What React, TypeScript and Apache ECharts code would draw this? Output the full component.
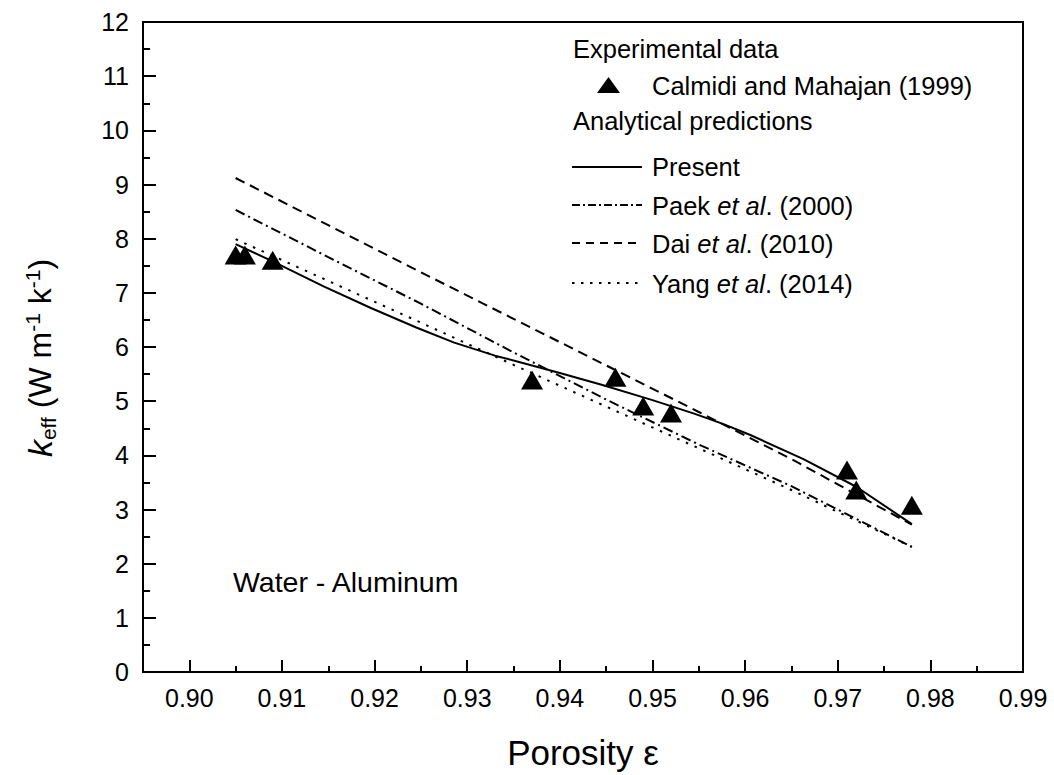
import React, { useEffect, useRef } from "react";
import * as echarts from "echarts";

const FONT = "'Liberation Sans', Arial, Helvetica, sans-serif";

const xMajorTicks = [0.9, 0.91, 0.92, 0.93, 0.94, 0.95, 0.96, 0.97, 0.98, 0.99];
const xMinorTicks = [0.905, 0.915, 0.925, 0.935, 0.945, 0.955, 0.965, 0.975, 0.985];

// Experimental data: Calmidi and Mahajan (1999)
const expX = [0.905, 0.906, 0.909, 0.937, 0.946, 0.949, 0.952, 0.971, 0.972, 0.978];
const expY = [7.7, 7.7, 7.6, 5.39, 5.44, 4.91, 4.78, 3.73, 3.36, 3.08];

// Present model
const presentX = [0.905, 0.909, 0.9145, 0.9196, 0.9245, 0.9286, 0.933, 0.9357, 0.94, 0.9446, 0.95, 0.9545, 0.9576, 0.9605, 0.9663, 0.972, 0.978];
const presentY = [7.9, 7.58, 7.12, 6.72, 6.36, 6.08, 5.84, 5.72, 5.52, 5.3, 5.02, 4.77, 4.58, 4.38, 3.93, 3.42, 2.73];

// Paek et al. (2000)
const paekX = [0.905, 0.915, 0.925, 0.935, 0.945, 0.955, 0.965, 0.978];
const paekY = [8.53, 7.66, 6.8, 5.9, 5.03, 4.2, 3.43, 2.31];

// Dai et al. (2010)
const daiX = [0.905, 0.915, 0.925, 0.935, 0.945, 0.955, 0.965, 0.978];
const daiY = [9.12, 8.25, 7.38, 6.52, 5.66, 4.8, 3.93, 2.72];

// Yang et al. (2014)
const yangX = [0.905, 0.915, 0.925, 0.935, 0.945, 0.955, 0.965, 0.978];
const yangY = [7.99, 7.22, 6.45, 5.67, 4.9, 4.13, 3.36, 2.31];

const pairs = (xs: number[], ys: number[]) => xs.map((x, i) => [x, ys[i]]);

export default function App() {
  const ref = useRef<HTMLDivElement>(null);

  useEffect(() => {
    if (!ref.current) return;
    const chart = echarts.init(ref.current, undefined, { renderer: "svg" });

    const txt = (text: string, x: number, y: number, size = 25.5, extra: any = {}) => ({
      type: "text",
      x,
      y,
      style: {
        text,
        font: `${size}px ${FONT}`,
        fill: "#000",
        textAlign: "left",
        textVerticalAlign: "middle",
        verticalAlign: "middle",
        ...extra,
      },
    });

    const richItal = {
      n: { fontFamily: FONT, fontSize: 25.5, fontStyle: "normal", color: "#000" },
      i: { fontFamily: FONT, fontSize: 25.5, fontStyle: "italic", color: "#000" },
    };

    const legendLine = (y: number, dash: any) => ({
      type: "line",
      shape: { x1: 572, y1: y, x2: 642, y2: y },
      style: { stroke: "#000", lineWidth: 2, lineDash: dash },
    });

    const baseX = {
      type: "value",
      min: 0.895,
      max: 0.99,
      position: "bottom",
      splitLine: { show: false },
      axisLine: { show: true, lineStyle: { color: "#000", width: 2 } },
    };

    chart.setOption({
      animation: false,
      backgroundColor: "#fff",
      grid: {
        left: 143,
        top: 22,
        width: 880,
        height: 650,
        show: true,
        borderColor: "#000",
        borderWidth: 2,
        backgroundColor: "transparent",
      },
      xAxis: [
        {
          ...baseX,
          name: "Porosity ε",
          nameLocation: "middle",
          nameGap: 63,
          nameTextStyle: { fontFamily: FONT, fontSize: 35, color: "#000" },
          axisTick: {
            show: true,
            inside: true,
            length: 12,
            customValues: xMajorTicks,
            lineStyle: { color: "#000", width: 2 },
          },
          axisLabel: {
            show: true,
            customValues: xMajorTicks,
            margin: 13,
            fontFamily: FONT,
            fontSize: 25,
            color: "#000",
            formatter: (v: number) => v.toFixed(2),
          },
        },
        {
          ...baseX,
          axisTick: {
            show: true,
            inside: true,
            length: 6,
            customValues: xMinorTicks,
            lineStyle: { color: "#000", width: 2 },
          },
          axisLabel: { show: false },
        },
      ],
      yAxis: {
        type: "value",
        min: 0,
        max: 12,
        interval: 1,
        splitLine: { show: false },
        axisLine: { show: true, lineStyle: { color: "#000", width: 2 } },
        axisTick: { show: true, inside: true, length: 13, lineStyle: { color: "#000", width: 2 } },
        minorTick: { show: true, splitNumber: 2, length: 7, lineStyle: { color: "#000", width: 2 } },
        axisLabel: { margin: 14, fontFamily: FONT, fontSize: 25, color: "#000" },
      },
      series: [
        {
          name: "Present",
          type: "line",
          data: pairs(presentX, presentY),
          showSymbol: false,
          smooth: false,
          lineStyle: { color: "#000", width: 2, type: "solid", join: "round" },
          z: 3,
        },
        {
          name: "Paek et al. (2000)",
          type: "line",
          data: pairs(paekX, paekY),
          showSymbol: false,
          lineStyle: { color: "#000", width: 2, type: [10, 4, 2, 4] },
          z: 3,
        },
        {
          name: "Dai et al. (2010)",
          type: "line",
          data: pairs(daiX, daiY),
          showSymbol: false,
          lineStyle: { color: "#000", width: 2, type: [10, 6] },
          z: 3,
        },
        {
          name: "Yang et al. (2014)",
          type: "line",
          data: pairs(yangX, yangY),
          showSymbol: false,
          lineStyle: { color: "#000", width: 2, type: [2.5, 7] },
          z: 3,
        },
        {
          name: "Calmidi and Mahajan (1999)",
          type: "scatter",
          data: pairs(expX, expY),
          symbol: "triangle",
          symbolSize: [22, 19],
          itemStyle: { color: "#000", opacity: 1 },
          z: 5,
        },
      ],
      graphic: [
        {
          type: "text",
          x: 40,
          y: 358,
          rotation: Math.PI / 2,
          style: {
            text: "{k|k}{sub|eff}{n| (W m}{sup|-1}{n| k}{sup|-1}{n|)}",
            textAlign: "center",
            align: "center",
            textVerticalAlign: "middle",
            verticalAlign: "middle",
            fill: "#000",
            rich: {
              k: { fontFamily: FONT, fontSize: 34, fontStyle: "italic", fill: "#000", lineHeight: 44, verticalAlign: "middle" },
              sub: { fontFamily: FONT, fontSize: 21, fill: "#000", lineHeight: 44, verticalAlign: "bottom", padding: [0, 0, 3, 0] },
              sup: { fontFamily: FONT, fontSize: 21, fill: "#000", lineHeight: 44, verticalAlign: "top", padding: [4, 0, 0, 0] },
              n: { fontFamily: FONT, fontSize: 32, fill: "#000", lineHeight: 44, verticalAlign: "middle" },
            },
          },
        },
        txt("Experimental data", 573, 49),
        {
          type: "polygon",
          shape: { points: [[597, 93], [620, 93], [608.5, 77]] },
          style: { fill: "#000" },
        },
        txt("Calmidi and Mahajan (1999)", 652, 86),
        txt("Analytical predictions", 573, 121),
        legendLine(167, null),
        txt("Present", 652, 167),
        legendLine(205, [8, 3, 2, 3]),
        txt("{n|Paek }{i|et al}{n|. (2000)}", 652, 206, 25.5, { rich: richItal }),
        legendLine(243, [8, 6]),
        txt("{n|Dai }{i|et al}{n|. (2010)}", 652, 244, 25.5, { rich: richItal }),
        legendLine(283, [2.5, 6.5]),
        txt("{n|Yang }{i|et al}{n|. (2014)}", 652, 284, 25.5, { rich: richItal }),
        txt("Water - Aluminum", 233, 582, 28.5),
      ],
    });

    return () => chart.dispose();
  }, []);

  return (
    <div
      ref={ref}
      style={{ position: "fixed", left: 0, top: 0, width: 1054, height: 775, background: "#fff" }}
    />
  );
}
